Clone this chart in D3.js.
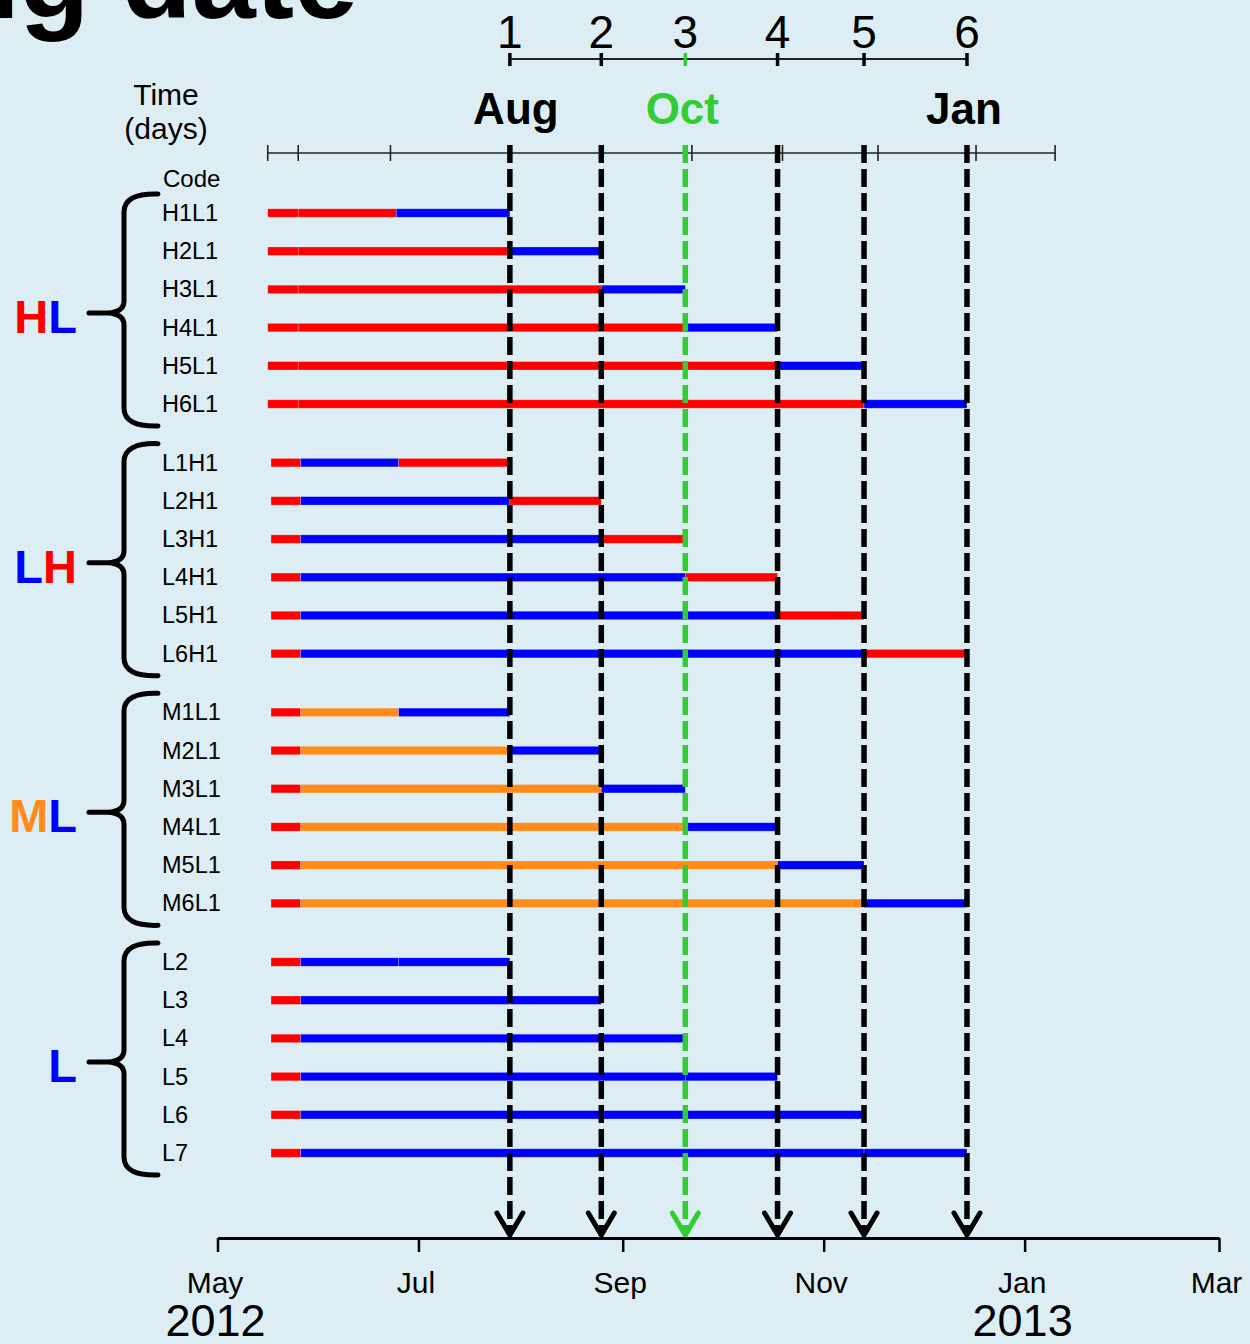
<!DOCTYPE html>
<html>
<head>
<meta charset="utf-8">
<script src="https://cdn.jsdelivr.net/npm/d3@7"></script>
<style>
  body { margin: 0; background: #dcedf3; }
  svg text { font-family: "Liberation Sans", Arial, sans-serif; }
</style>
</head>
<body>
<div id="chart"></div>
<script>
var svgWidth = 1250;
var svgHeight = 1344;

// Data
var groupNames = ["HL", "LH", "ML", "L"];
var rowCodes = [
  ["H1L1", "H2L1", "H3L1", "H4L1", "H5L1", "H6L1"],
  ["L1H1", "L2H1", "L3H1", "L4H1", "L5H1", "L6H1"],
  ["M1L1", "M2L1", "M3L1", "M4L1", "M5L1", "M6L1"],
  ["L2", "L3", "L4", "L5", "L6", "L7"]
];
var firstTreatment = ["H", "L", "M", "L"];
var secondTreatment = ["L", "H", "L", "L"];
var startDates = ["2012-05-16 06", "2012-05-17 06", "2012-05-17 06", "2012-05-17 06"];
var acclimEnd = ["2012-05-25 12", "2012-05-26 06", "2012-05-26 06", "2012-05-26 06"];
var firstSwitch = ["2012-06-24 06", "2012-06-25 00", "2012-06-25 00", "2012-06-25 00"];
var sampleDates = ["2012-07-28 18", "2012-08-25 12", "2012-09-20 00", "2012-10-18 00", "2012-11-13 06", "2012-12-14 12"];
var sampleLabels = ["1", "2", "3", "4", "5", "6"];
var topMonthLabels = ["Aug", "Oct", "Jan"];
var topMonthIndex = [0, 2, 5];
var dayTickDates = ["2012-05-16 06", "2012-05-25 12", "2012-06-22 12", "2012-07-29 00", "2012-08-26 00",
  "2012-09-22 00", "2012-10-19 12", "2012-11-17 12", "2012-12-17 06", "2013-01-10 06"];
var monthTicks = ["2012-05-01 00", "2012-07-01 00", "2012-09-01 00", "2012-11-01 00", "2013-01-01 00", "2013-03-01 00"];
var yearLabels = ["2012", "2013"];
var yearDates = ["2012-05-01 00", "2013-01-01 00"];

var parse = d3.timeParse("%Y-%m-%d %H");

var treatColor = d3.scaleOrdinal()
  .domain(["H", "L", "M"])
  .range(["#ff0000", "#0000ff", "#ff8c1a"]);
var green = "#33cc33";

var svg = d3.select("#chart")
  .append("svg")
  .attr("width", svgWidth)
  .attr("height", svgHeight);

svg.append("rect")
  .attr("width", svgWidth)
  .attr("height", svgHeight)
  .attr("fill", "#dcedf3");

// Scales
var xScale = d3.scaleTime()
  .domain([parse(monthTicks[0]), parse(monthTicks[5])])
  .range([217.5, 1219]);

var groupY = d3.scalePoint()
  .domain(groupNames)
  .range([213, 962]);

var rowY = d3.scalePoint()
  .domain(d3.range(6))
  .range([0, 191]);

// Title (cut off at top)
svg.append("text")
  .attr("x", 358)
  .attr("y", 18)
  .attr("text-anchor", "end")
  .attr("font-size", 115)
  .attr("font-weight", "bold")
  .text("Sampling date");

// Build segments
var segments = [];
groupNames.forEach(function(g, gi) {
  rowCodes[gi].forEach(function(code, ri) {
    var y = groupY(g) + rowY(ri);
    var sw = ri === 0 ? firstSwitch[gi] : sampleDates[ri - 1];
    segments.push({ y: y, x0: parse(startDates[gi]), x1: parse(acclimEnd[gi]), t: "H" });
    segments.push({ y: y, x0: parse(acclimEnd[gi]), x1: parse(sw), t: firstTreatment[gi] });
    segments.push({ y: y, x0: parse(sw), x1: parse(sampleDates[ri]), t: secondTreatment[gi] });
  });
});

// Bars
svg.append("g").selectAll("rect")
  .data(segments)
  .enter()
  .append("rect")
  .attr("x", d => xScale(d.x0))
  .attr("y", d => d.y - 4.2)
  .attr("width", d => xScale(d.x1) - xScale(d.x0))
  .attr("height", 8.4)
  .attr("fill", d => treatColor(d.t))
  .attr("stroke", "#ffffff")
  .attr("stroke-opacity", 0.3)
  .attr("stroke-width", 0.7);

// Row labels
var labelG = svg.append("g").attr("font-size", 23.5);
groupNames.forEach(function(g, gi) {
  rowCodes[gi].forEach(function(code, ri) {
    labelG.append("text")
      .attr("x", 162)
      .attr("y", groupY(g) + rowY(ri) + 8)
      .text(code);
  });
});

// Braces and group labels
groupNames.forEach(function(g, gi) {
  var yT = groupY(g) - 19;
  var yB = groupY(g) + rowY(5) + 22;
  var yM = (yT + yB) / 2 + 3;
  var p = d3.path();
  p.moveTo(158, yT);
  p.quadraticCurveTo(124, yT - 1, 124, yT + 18);
  p.lineTo(124, yM - 12);
  p.quadraticCurveTo(124, yM - 1, 108, yM);
  p.lineTo(89, yM);
  p.moveTo(108, yM);
  p.quadraticCurveTo(124, yM + 1, 124, yM + 12);
  p.lineTo(124, yB - 18);
  p.quadraticCurveTo(124, yB + 1, 158, yB);
  svg.append("path")
    .attr("d", p.toString())
    .attr("fill", "none")
    .attr("stroke", "#000")
    .attr("stroke-width", 5)
    .attr("stroke-linecap", "round");

  var t = svg.append("text")
    .attr("x", 77)
    .attr("y", yM + 20)
    .attr("text-anchor", "end")
    .attr("font-size", 47)
    .attr("font-weight", "bold");
  g.split("").forEach(function(ch) {
    t.append("tspan").attr("fill", treatColor(ch)).text(ch);
  });
});

// Header labels
svg.append("text")
  .attr("x", 166).attr("y", 105)
  .attr("text-anchor", "middle")
  .attr("font-size", 30)
  .text("Time");
svg.append("text")
  .attr("x", 166).attr("y", 139)
  .attr("text-anchor", "middle")
  .attr("font-size", 30)
  .text("(days)");
svg.append("text")
  .attr("x", 163).attr("y", 187)
  .attr("font-size", 24)
  .text("Code");

// Time (days) axis at top of bars
var dayAxisY = 153;
svg.append("line")
  .attr("x1", xScale(parse(dayTickDates[0])))
  .attr("x2", xScale(parse(dayTickDates[dayTickDates.length - 1])))
  .attr("y1", dayAxisY).attr("y2", dayAxisY)
  .attr("stroke", "#222").attr("stroke-width", 1.6);
svg.append("g").selectAll("line")
  .data(dayTickDates)
  .enter()
  .append("line")
  .attr("x1", d => xScale(parse(d)))
  .attr("x2", d => xScale(parse(d)))
  .attr("y1", dayAxisY - 8).attr("y2", dayAxisY + 8)
  .attr("stroke", "#222").attr("stroke-width", 1.6);

// Sample number axis
var numAxisY = 59;
svg.append("line")
  .attr("x1", xScale(parse(sampleDates[0])))
  .attr("x2", xScale(parse(sampleDates[5])))
  .attr("y1", numAxisY).attr("y2", numAxisY)
  .attr("stroke", "#222").attr("stroke-width", 2);
svg.append("g").selectAll("line")
  .data(sampleDates)
  .enter()
  .append("line")
  .attr("x1", d => xScale(parse(d)))
  .attr("x2", d => xScale(parse(d)))
  .attr("y1", numAxisY - 6).attr("y2", numAxisY + 7)
  .attr("stroke", (d, i) => i === 2 ? green : "#000")
  .attr("stroke-width", 3.5);
svg.append("g").selectAll("text")
  .data(sampleLabels)
  .enter()
  .append("text")
  .attr("x", (d, i) => xScale(parse(sampleDates[i])))
  .attr("y", 48)
  .attr("text-anchor", "middle")
  .attr("font-size", 46)
  .text(d => d);

// Month labels above
svg.append("g").selectAll("text")
  .data(topMonthLabels)
  .enter()
  .append("text")
  .attr("x", (d, i) => xScale(parse(sampleDates[topMonthIndex[i]])) + (i === 0 ? 6 : -3))
  .attr("y", 124)
  .attr("text-anchor", "middle")
  .attr("font-size", 44)
  .attr("font-weight", "bold")
  .attr("fill", (d, i) => topMonthIndex[i] === 2 ? green : "#000")
  .text(d => d);

// Dashed sampling lines with arrows
var axisY = 1238;
var dashG = svg.append("g");
sampleDates.forEach(function(d, i) {
  var x = xScale(parse(d));
  var col = i === 2 ? green : "#000";
  dashG.append("line")
    .attr("x1", x).attr("x2", x)
    .attr("y1", 145).attr("y2", axisY - 4)
    .attr("stroke", col)
    .attr("stroke-width", 5.5)
    .attr("stroke-dasharray", "18,6");
  dashG.append("path")
    .attr("d", `M${x - 13},${axisY - 25} L${x},${axisY - 3} L${x + 13},${axisY - 25}`)
    .attr("fill", "none")
    .attr("stroke", col)
    .attr("stroke-width", 5)
    .attr("stroke-linecap", "round");
});

// Bottom month axis
var xAxis = d3.axisBottom(xScale)
  .tickValues(monthTicks.map(parse))
  .tickFormat(d3.timeFormat("%b"))
  .tickSize(14)
  .tickSizeOuter(0);

var axisG = svg.append("g")
  .attr("transform", `translate(0, ${axisY})`)
  .call(xAxis);
axisG.select(".domain").attr("stroke", "#000").attr("stroke-width", 3);
axisG.selectAll(".tick line").attr("stroke", "#000").attr("stroke-width", 2.5);
axisG.selectAll(".tick text")
  .attr("dy", null)
  .attr("y", 55)
  .attr("x", -3)
  .attr("fill", "#000")
  .attr("font-size", 30)
  .attr("font-family", "Liberation Sans, Arial, sans-serif");

svg.append("g").selectAll("text")
  .data(yearLabels)
  .enter()
  .append("text")
  .attr("x", (d, i) => xScale(parse(yearDates[i])) - 2)
  .attr("y", 1336)
  .attr("text-anchor", "middle")
  .attr("font-size", 45)
  .text(d => d);
</script>
</body>
</html>
